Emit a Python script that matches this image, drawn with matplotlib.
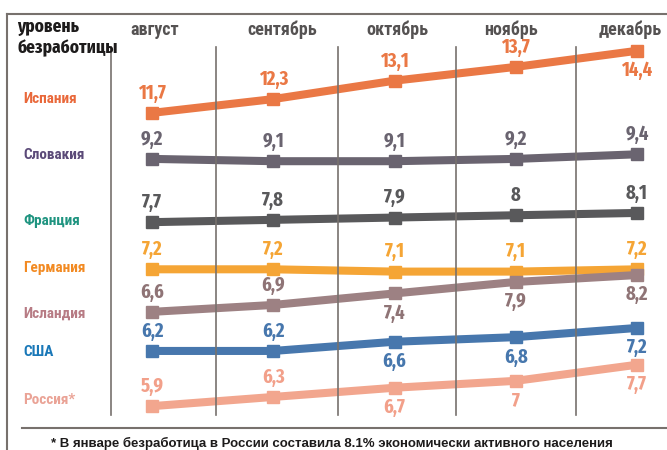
import numpy as np
import matplotlib
matplotlib.use("Agg")
import matplotlib.pyplot as plt
from matplotlib.lines import Line2D

months = ["август", "сентябрь", "октябрь", "ноябрь", "декабрь"]
countries = ["Испания", "Словакия", "Франция", "Германия", "Исландия", "США", "Россия*"]

spain = [11.7, 12.3, 13.1, 13.7, 14.4]
slovakia = [9.2, 9.1, 9.1, 9.2, 9.4]
france = [7.7, 7.8, 7.9, 8.0, 8.1]
germany = [7.2, 7.2, 7.1, 7.1, 7.2]
iceland = [6.6, 6.9, 7.4, 7.9, 8.2]
usa = [6.2, 6.2, 6.6, 6.8, 7.2]
russia = [5.9, 6.3, 6.7, 7.0, 7.7]

series = [spain, slovakia, france, germany, iceland, usa, russia]

# each country sits in its own band: shift in value units
shifts = [0.0, -0.5, 0.75, 2.3, 3.55, 4.85, 6.95]
line_colors = ["#ea7845", "#6a6470", "#59595b", "#f5a535", "#9d8183", "#4777ad", "#f2a68e"]
label_colors = ["#e9683a", "#5b4a78", "#1f9480", "#f28a22", "#b77b84", "#1a78b8", "#eaa396"]
text_colors = ["#ea7845", "#6a6470", "#59595b", "#f5a535", "#8f7476", "#4777ad", "#f2a08a"]
# label above (+1) or below (-1) the point
label_side = [[1, 1, 1, 1, -1], [1] * 5, [1] * 5, [1] * 5,
              [1, 1, -1, -1, -1], [1, 1, -1, -1, -1], [1, 1, -1, -1, -1]]

cond = ["Roboto Condensed", "PT Sans Narrow", "DejaVu Sans"]
xcond = ["Fira Sans Extra Condensed", "Roboto Condensed", "DejaVu Sans"]

fig = plt.figure(figsize=(6.67, 4.5), dpi=100)
ax = fig.add_axes([0, 0, 1, 1])
px_per_x = 121.25
px_per_y = 23.0
ax.set_xlim(-152 / px_per_x, (667 - 152) / px_per_x)
ax.set_ylim((382 - 450) / px_per_y, 382 / px_per_y)
ax.axis("off")

# frame and separators (figure coords)
def fx(p):
    return p / 667

def fy(p):
    return 1 - p / 450

frame = "#77716d"
fig.add_artist(Line2D([fx(7), fx(667)], [fy(14), fy(14)], color=frame, lw=1.5))
fig.add_artist(Line2D([fx(7), fx(7)], [fy(14), fy(450)], color=frame, lw=1.5))
fig.add_artist(Line2D([fx(22), fx(667)], [fy(428), fy(428)], color=frame, lw=1.5))
for gx in [111, 216, 338, 456, 576]:
    fig.add_artist(Line2D([fx(gx), fx(gx)], [fy(47), fy(415)], color=frame, lw=1.2))

x = np.arange(len(months))
for i, vals in enumerate(series):
    y = np.array(vals) - shifts[i]
    ax.plot(x, y, color=line_colors[i], lw=5.8, marker="s", markersize=9,
            solid_capstyle="butt", zorder=3)
    for j, v in enumerate(vals):
        s = ("%g" % v).replace(".", ",")
        off = 0.86 * label_side[i][j]
        ax.text(x[j], y[j] + off, s, ha="center", va="center", fontsize=14.5,
                fontweight="bold", color=text_colors[i], family=xcond, zorder=4)

month_x = [155, 282, 397, 511, 630]
for mx, m in zip(month_x, months):
    fig.text(fx(mx), fy(30), m, ha="center", va="center", fontsize=13,
             fontweight="bold", color="#555252", family=cond)

fig.text(fx(17), fy(27), "уровень", ha="left", va="center", fontsize=13.5,
         fontweight="bold", color="#1d1b1b", family=xcond)
fig.text(fx(17), fy(48), "безработицы", ha="left", va="center", fontsize=13.5,
         fontweight="bold", color="#1d1b1b", family=xcond)

label_y = [99, 155, 221, 268, 314, 352, 400]
for ly, c, col in zip(label_y, countries, label_colors):
    fig.text(fx(23), fy(ly), c, ha="left", va="center", fontsize=11,
             fontweight="bold", color=col, family=cond)

fig.text(fx(332), fy(443), "* В январе безработица в России составила 8.1% экономически активного населения",
         ha="center", va="center", fontsize=9.5, fontweight="bold", color="#1d1b1b",
         family=["Liberation Sans", "DejaVu Sans"])

fig.savefig("out.png", dpi=100, facecolor="white")
